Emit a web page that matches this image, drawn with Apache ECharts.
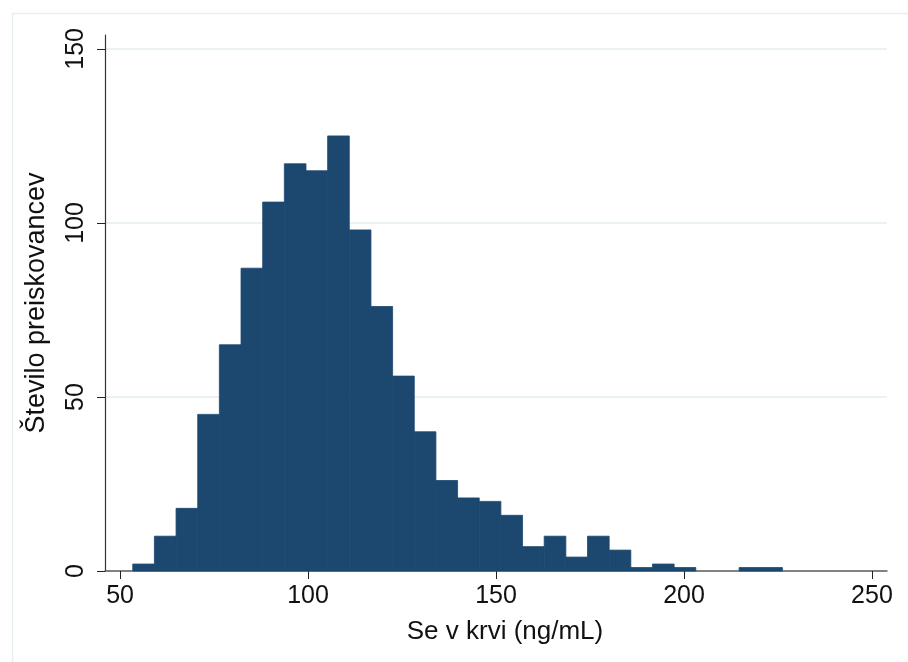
<!DOCTYPE html>
<html>
<head>
<meta charset="utf-8">
<script src="https://cdn.jsdelivr.net/npm/echarts@6/dist/echarts.min.js"></script>
<style>html,body{margin:0;padding:0;background:#fff}#c{width:908px;height:662px}</style>
</head>
<body>
<div id="c"></div>
<script>
// Histogram of blood Se (ng/mL)
const binStart = 53.38;
const binWidth = 5.76;
const counts = [2, 10, 18, 45, 65, 87, 106, 117, 115, 125, 98, 76, 56, 40, 26, 21, 20, 16, 7, 10, 4, 10, 6, 1, 2, 1, 0, 0, 1, 1];
const xTicks = [50, 100, 150, 200, 250];
const yTicks = [0, 50, 100, 150];
const xTitle = 'Se v krvi (ng/mL)';
const yTitle = 'Število preiskovancev';

const barData = counts.map((c, i) => [binStart + i * binWidth, binStart + (i + 1) * binWidth, c]);
const FONT = '"Liberation Sans", Arial, Helvetica, sans-serif';

const chart = echarts.init(document.getElementById('c'), null, {renderer: 'canvas'});
chart.setOption({
  animation: false,
  backgroundColor: '#ffffff',
  graphic: [{
    type: 'rect', left: 10, top: 11, silent: true, z: -10,
    shape: {x: 0, y: 0, width: 960, height: 700},
    style: {fill: 'none', stroke: '#e6eef2', lineWidth: 1.5}
  }],
  grid: {left: 105, right: 21, top: 35, bottom: 91, containLabel: false},
  xAxis: {
    type: 'value', min: 46, max: 254,
    name: xTitle, nameLocation: 'middle', nameGap: 48,
    nameTextStyle: {fontFamily: FONT, fontSize: 26, color: '#111', padding: [0, 0, 0, 18]},
    axisLine: {show: true, onZero: false, lineStyle: {color: '#5a6062', width: 1.5}},
    axisTick: {show: true, length: 8, customValues: xTicks, lineStyle: {color: '#222', width: 1}},
    axisLabel: {customValues: xTicks, fontFamily: FONT, fontSize: 25, color: '#111', margin: 13},
    splitLine: {show: false}
  },
  yAxis: {
    type: 'value', min: 0, max: 154,
    name: yTitle, nameLocation: 'middle', nameGap: 55, nameRotate: 90,
    nameTextStyle: {fontFamily: FONT, fontSize: 27, color: '#111'},
    axisLine: {show: true, onZero: false, lineStyle: {color: '#333', width: 1.2}},
    axisTick: {show: true, length: 8, customValues: yTicks, lineStyle: {color: '#222', width: 1}},
    axisLabel: {customValues: yTicks, rotate: 90, fontFamily: FONT, fontSize: 25, color: '#111', margin: 16},
    splitLine: {show: true, lineStyle: {color: '#eaf2f3', width: 2}}
  },
  series: [{
    type: 'custom',
    data: barData,
    encode: {x: [0, 1], y: 2},
    renderItem: function (params, api) {
      const v = api.value(2);
      if (!v) return null;
      const p0 = api.coord([api.value(0), v]);
      const p1 = api.coord([api.value(1), 0]);
      return {
        type: 'rect',
        shape: {x: p0[0], y: p0[1], width: p1[0] - p0[0], height: p1[1] - p0[1]},
        style: {fill: '#1c4870', stroke: '#1c4870', lineWidth: 0.8}
      };
    }
  }]
});
</script>
</body>
</html>
